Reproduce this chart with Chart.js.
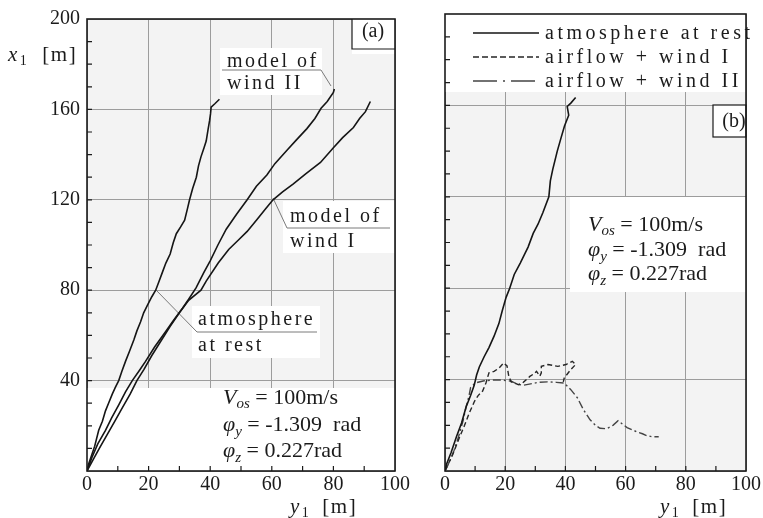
<!DOCTYPE html>
<html>
<head>
<meta charset="utf-8">
<script src="https://cdn.jsdelivr.net/npm/chart.js"></script>
<style>
  html, body { margin: 0; padding: 0; background: #fff; }
  #wrap { position: relative; width: 763px; height: 518px; overflow: hidden; }
  canvas { position: absolute; top: 0; }
  #cA { left: 0; }
  #cB { left: 430px; }
</style>
</head>
<body>
<div id="wrap">
  <canvas id="cA" width="430" height="518"></canvas>
  <canvas id="cB" width="333" height="518"></canvas>
</div>
<script>
// ---- data (y1 [m] across, x1 [m] up) ----
const xTicks = [0, 20, 40, 60, 80, 100];
const yTicks = [0, 40, 80, 120, 160, 200];

// (a) atmosphere at rest
const restA_x = [0, 0.5, 1.5, 2.5, 3.8, 5, 6, 7, 8.2, 9.2, 10.3, 11.3, 12.5, 13.8, 15.2, 16.2, 17.4, 18.4, 19.6, 21, 22.3, 23.4, 24.5, 25.6, 27, 28, 29, 30.4, 31.7, 32.6, 33.3, 34.3, 35.5, 36.2, 37, 38, 38.7, 39.3, 39.8, 40.1, 40.3, 41.5, 43];
const restA_y = [0, 3, 7, 11, 18, 22, 26.6, 30, 34, 37, 40, 44, 48.5, 53, 58, 62, 66, 70, 73.3, 77, 80, 84, 88, 92, 96, 101, 105, 108, 111, 116, 120, 125, 130, 135, 139, 143, 146, 151, 155, 158, 161, 162.5, 164.5];
// (a) model of wind I
const wind1A_x = [0, 2, 4, 6.5, 9, 11.5, 14, 16.2, 18.5, 21, 24, 27, 30, 33, 37, 38.7, 42.6, 46, 49, 52, 55, 58, 60.4, 63.5, 67, 71, 75.8, 80, 83, 86.5, 88.5, 90.4, 92];
const wind1A_y = [0, 5, 10, 16, 22, 28, 34, 40, 45, 51, 57.5, 64, 70, 75.5, 80, 84, 92, 98, 102, 106, 111, 116, 120, 123.5, 127, 131.5, 136.5, 143, 147.5, 152, 156, 159, 163.5];
// (a) model of wind II
const wind2A_x = [0, 1.6, 3.5, 6, 8, 10.4, 12.5, 14.7, 17, 19, 22, 25.5, 28, 31, 33, 35.4, 38, 40, 42.5, 45.2, 48.5, 52, 55, 58.4, 61, 65, 68, 71.4, 74, 76, 78, 80, 80.3];
const wind2A_y = [0, 6, 12, 18, 23.5, 29.5, 35, 40, 44.5, 48.5, 55, 61.6, 66.5, 72, 76, 81, 88, 93, 100, 107, 113.5, 120, 126, 131, 136, 142, 146.5, 151.5, 156, 160.5, 163.5, 167.5, 169];

// (b) atmosphere at rest
const restB_x = [0, 0.6, 2, 3.8, 5.5, 7, 8.5, 9.7, 10.5, 11.4, 13, 14.6, 16.3, 17.9, 19, 20.3, 21.5, 23, 25, 26.5, 27.6, 29.3, 30.9, 32.5, 34.5, 35, 35.8, 37.3, 38.6, 39.7, 41.1, 40.6, 41.8, 43.4];
const restB_y = [0, 3.3, 8, 15, 21, 28, 33, 37.5, 42, 45.5, 50, 54, 59, 64.5, 70, 76, 80, 86, 91, 95, 98, 104, 108, 113, 120, 127, 132, 140, 146, 151, 155.7, 159.5, 161, 163.5];
// (b) airflow + wind I
const wind1B_x = [0, 2.5, 4.9, 6.5, 8.1, 9.8, 11, 12.5, 13.6, 14.6, 16.3, 17.9, 19.5, 20.6, 21.2, 22, 24.4, 26, 28.2, 29.5, 30.4, 31.5, 32, 32, 34.2, 37.5, 40.2, 42.3, 43.4, 41.8, 39.6, 39.3];
const wind1B_y = [0, 7, 15, 20, 25.5, 30.5, 33, 35, 38.5, 43, 43.6, 45, 47.3, 46, 41.4, 39, 37.8, 38.8, 41.4, 42.5, 43.6, 41.5, 43, 45.8, 46.6, 45.8, 46.6, 48, 46.6, 44.4, 40.7, 39];
// (b) airflow + wind II
const wind2B_x = [0, 1.5, 3, 4.5, 6, 7, 8, 8.5, 10, 13, 16, 19, 22, 24, 26, 28, 31, 34, 37, 39.6, 41.8, 44, 46, 48.2, 50, 51.5, 53.7, 55.8, 57.5, 59, 60.5, 62.3, 64, 65.6, 67, 68.8, 71];
const wind2B_y = [0, 4, 9, 15, 22, 28, 33, 36.5, 38.5, 39.5, 39.8, 39.8, 39.3, 38, 37.5, 38, 38.8, 39, 38.8, 38.5, 35.6, 32, 26.8, 22.4, 20, 18.7, 18.5, 20, 22, 20.5, 19, 18, 17, 16.3, 15.5, 15, 15];

const seriesLabelsA = ['atmosphere at rest', 'model of wind I', 'model of wind II'];
const seriesLabelsB = ['atmosphere at rest', 'airflow + wind I', 'airflow + wind II'];

// ---- styling ----
const SERIF = '"Liberation Serif", "DejaVu Serif", serif';
const INK = '#1b1b1b';
const GRID = '#9c9c9c';
const PLOT_BG = '#f3f3f3';
const F = (size, italic) => (italic ? 'italic ' : '') + size + 'px ' + SERIF;
const DASH_1 = [5, 3];
const DASH_2 = [8, 3, 2, 3];
const LEGEND_DASH = [[], [6, 3], [24, 6, 2, 6]];

const pts = (xs, ys) => xs.map((x, i) => ({ x: x, y: ys[i] }));

function line(label, data, dash, color, width) {
  return {
    label: label, data: data, showLine: true, pointRadius: 0, tension: 0,
    borderColor: color, borderWidth: width, borderDash: dash, fill: false
  };
}

function axes(yWidth, showY) {
  return {
    x: {
      type: 'linear', min: 0, max: 100,
      afterBuildTicks: s => { s.ticks = xTicks.map(v => ({ value: v })); },
      ticks: { font: { family: SERIF, size: 20 }, color: INK, padding: 2, maxRotation: 0 },
      grid: { color: GRID, lineWidth: 1, drawTicks: false },
      border: { display: false },
      afterFit: s => { s.height = 47; }
    },
    y: {
      type: 'linear', min: 0, max: 200,
      afterBuildTicks: s => { s.ticks = yTicks.map(v => ({ value: v })); },
      ticks: {
        display: showY, font: { family: SERIF, size: 20 }, color: INK, padding: 7,
        callback: v => (v === 0 ? '' : v)
      },
      grid: { color: GRID, lineWidth: 1, drawTicks: false },
      border: { display: false },
      afterFit: s => { s.width = yWidth; }
    }
  };
}

// draw a run of text pieces (fonts / sub-scripts) one after another
function rich(ctx, x, y, parts, spacing) {
  ctx.save();
  ctx.fillStyle = INK;
  ctx.textAlign = 'left';
  ctx.textBaseline = 'alphabetic';
  ctx.letterSpacing = (spacing || 0) + 'px';
  for (const p of parts) {
    ctx.font = p.f;
    ctx.fillText(p.t, x, y + (p.dy || 0));
    x += ctx.measureText(p.t).width + (p.gap || 0);
  }
  ctx.restore();
}

function whiteBox(ctx, x, y, w, h) {
  ctx.fillStyle = '#ffffff';
  ctx.fillRect(x, y, w, h);
}

function pointer(ctx, xy) {
  ctx.save();
  ctx.strokeStyle = '#7a7a7a';
  ctx.lineWidth = 1;
  ctx.beginPath();
  ctx.moveTo(xy[0][0], xy[0][1]);
  for (let i = 1; i < xy.length; i++) ctx.lineTo(xy[i][0], xy[i][1]);
  ctx.stroke();
  ctx.restore();
}

function params(ctx, x, y0, dy) {
  rich(ctx, x, y0, [
    { t: 'V', f: F(22, true) }, { t: 'os', f: F(15, true), dy: 4 }, { t: ' = 100m/s', f: F(22) }
  ]);
  rich(ctx, x, y0 + dy, [
    { t: 'φ', f: F(22, true) }, { t: 'y', f: F(15, true), dy: 5 }, { t: ' = -1.309  rad', f: F(22) }
  ]);
  rich(ctx, x, y0 + 2 * dy, [
    { t: 'φ', f: F(22, true) }, { t: 'z', f: F(15, true), dy: 5 }, { t: ' = 0.227rad', f: F(22) }
  ]);
}

function axisTitle(ctx, x, y, letter) {
  rich(ctx, x, y, [
    { t: letter, f: F(21, true), gap: 1 }, { t: '1', f: F(14), dy: 4, gap: 12 }, { t: '[m]', f: F(21) }
  ], 1.5);
}

// background, minor ticks and frame shared by both panels
const framePlugin = {
  id: 'frame',
  beforeDraw(chart) {
    const a = chart.chartArea, ctx = chart.ctx;
    ctx.save();
    ctx.fillStyle = PLOT_BG;
    ctx.fillRect(a.left, a.top, a.right - a.left, a.bottom - a.top);
    ctx.restore();
  },
  afterDatasetsDraw(chart) {
    const a = chart.chartArea, ctx = chart.ctx;
    const sx = chart.scales.x, sy = chart.scales.y;
    ctx.save();
    ctx.strokeStyle = INK;
    ctx.lineWidth = 1.2;
    ctx.beginPath();
    for (let v = 10; v < 100; v += 10) {
      const px = sx.getPixelForValue(v);
      ctx.moveTo(px, a.bottom); ctx.lineTo(px, a.bottom - 5);
    }
    for (let v = 10; v < 200; v += 10) {
      const py = sy.getPixelForValue(v);
      ctx.moveTo(a.left, py); ctx.lineTo(a.left + 5, py);
    }
    ctx.stroke();
    ctx.lineWidth = 1.6;
    ctx.strokeRect(a.left, a.top, a.right - a.left, a.bottom - a.top);
    ctx.restore();
  }
};

// panel (a) annotations
const notesA = {
  id: 'notesA',
  beforeDatasetsDraw(chart) {
    const ctx = chart.ctx, a = chart.chartArea;
    ctx.save();
    whiteBox(ctx, a.left, 388, a.right - a.left, a.bottom - 388);
    whiteBox(ctx, 352, a.top, a.right - 352, 35);
    whiteBox(ctx, 220, 48, 102, 47);
    whiteBox(ctx, 283, 201, a.right - 283, 52);
    whiteBox(ctx, 192, 306, 128, 52);
    ctx.strokeStyle = INK;
    ctx.lineWidth = 1.2;
    ctx.beginPath();
    ctx.moveTo(352, a.top); ctx.lineTo(352, 49); ctx.lineTo(a.right, 49);
    ctx.stroke();
    ctx.restore();

    ctx.save();
    ctx.font = F(20);
    ctx.fillStyle = INK;
    ctx.textAlign = 'center';
    ctx.textBaseline = 'middle';
    ctx.fillText('(a)', 373, 32);
    ctx.restore();

    rich(ctx, 227, 67, [{ t: 'model of', f: F(20) }], 2.5);
    rich(ctx, 227, 89, [{ t: 'wind II', f: F(20) }], 2.5);
    pointer(ctx, [[222, 70], [321, 70], [331, 86]]);

    rich(ctx, 290, 222, [{ t: 'model of', f: F(20) }], 2.5);
    rich(ctx, 290, 247, [{ t: 'wind I', f: F(20) }], 2.5);
    pointer(ctx, [[273, 198], [287, 228], [390, 228]]);

    rich(ctx, 198, 325, [{ t: 'atmosphere', f: F(20) }], 2.5);
    rich(ctx, 198, 351, [{ t: 'at rest', f: F(20) }], 2.5);
    pointer(ctx, [[156, 290], [197, 332], [317, 332]]);

    params(ctx, 223, 404, 26.5);
  },
  afterDraw(chart) {
    const ctx = chart.ctx;
    rich(ctx, 8, 61, [
      { t: 'x', f: F(21, true), gap: 1 }, { t: '1', f: F(14), dy: 4, gap: 14 }, { t: '[m]', f: F(21) }
    ], 1.5);
    axisTitle(ctx, 290, 513, 'y');
  }
};

// panel (b) annotations and legend
const notesB = {
  id: 'notesB',
  beforeDatasetsDraw(chart) {
    const ctx = chart.ctx, a = chart.chartArea;
    ctx.save();
    whiteBox(ctx, a.left, a.top, a.right - a.left, 78);
    whiteBox(ctx, 140, 197, a.right - 140, 95);
    whiteBox(ctx, 283, 105, a.right - 283, 32);
    ctx.strokeStyle = INK;
    ctx.lineWidth = 1.2;
    ctx.strokeRect(283, 105, a.right - 283, 32);
    ctx.font = F(20);
    ctx.fillStyle = INK;
    ctx.textAlign = 'center';
    ctx.textBaseline = 'middle';
    ctx.fillText('(b)', 304, 122);
    ctx.restore();

    params(ctx, 158, 231, 24.5);

    // legend built from the datasets
    chart.data.datasets.forEach((ds, i) => {
      const y = 33 + i * 24;
      ctx.save();
      ctx.strokeStyle = ds.borderColor;
      ctx.lineWidth = 1.3;
      ctx.setLineDash(LEGEND_DASH[i]);
      ctx.beginPath();
      ctx.moveTo(43, y); ctx.lineTo(109, y);
      ctx.stroke();
      ctx.restore();
      rich(ctx, 115, y + 6, [{ t: ds.label, f: F(20) }], 3.5);
    });
  },
  afterDraw(chart) {
    axisTitle(chart.ctx, 230, 513, 'y');
  }
};

const common = {
  responsive: false,
  animation: false,
  devicePixelRatio: 1,
  plugins: { legend: { display: false }, tooltip: { enabled: false } }
};

new Chart(document.getElementById('cA'), {
  type: 'scatter',
  data: {
    datasets: [
      line(seriesLabelsA[0], pts(restA_x, restA_y), [], '#151515', 1.6),
      line(seriesLabelsA[1], pts(wind1A_x, wind1A_y), [], '#151515', 1.6),
      line(seriesLabelsA[2], pts(wind2A_x, wind2A_y), [], '#151515', 1.6)
    ]
  },
  options: Object.assign({}, common, {
    layout: { padding: { left: 0, right: 35, top: 14, bottom: 0 } },
    scales: axes(87, true)
  }),
  plugins: [framePlugin, notesA]
});

new Chart(document.getElementById('cB'), {
  type: 'scatter',
  data: {
    datasets: [
      line(seriesLabelsB[0], pts(restB_x, restB_y), [], '#151515', 1.6),
      line(seriesLabelsB[1], pts(wind1B_x, wind1B_y), DASH_1, '#262626', 1.4),
      line(seriesLabelsB[2], pts(wind2B_x, wind2B_y), DASH_2, '#444444', 1.4)
    ]
  },
  options: Object.assign({}, common, {
    layout: { padding: { left: 0, right: 10, top: 14, bottom: 0 } },
    scales: axes(15, false)
  }),
  plugins: [framePlugin, notesB]
});
</script>
</body>
</html>
